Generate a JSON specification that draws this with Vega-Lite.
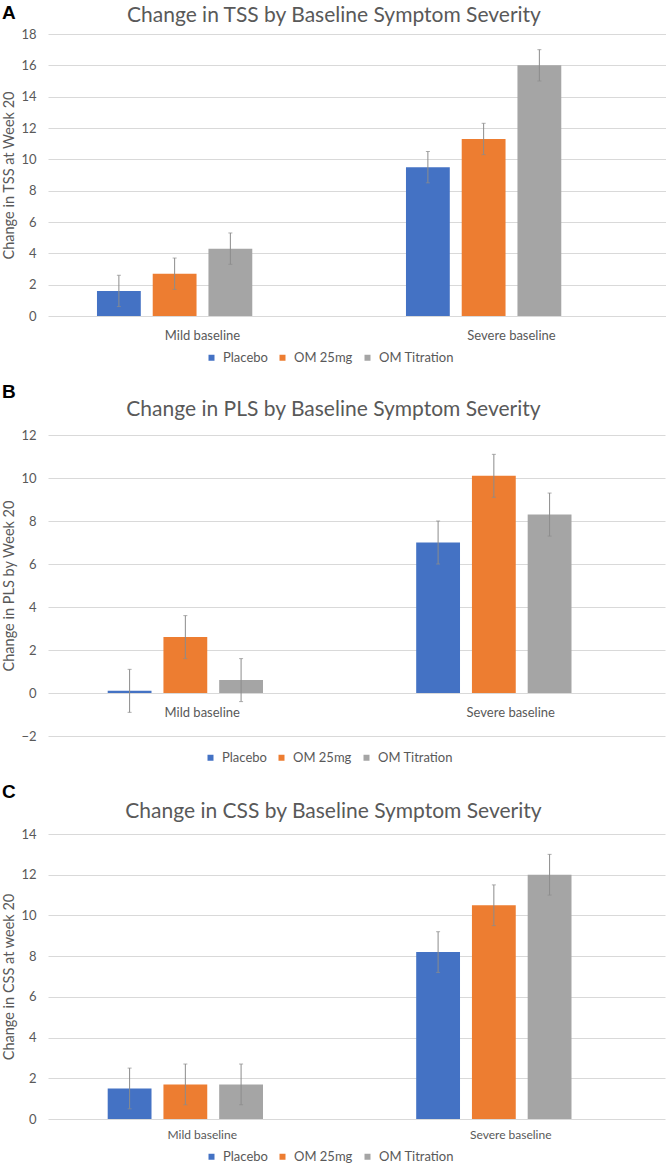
{
  "$schema": "https://vega.github.io/schema/vega-lite/v6.json",
  "background": "white",
  "padding": {"left": 1, "top": 4, "right": 0, "bottom": 0},
  "spacing": 18,
  "resolve": {"scale": {"color": "independent"}, "legend": {"color": "independent"}},
  "config": {
    "font": "Lato",
    "view": {"stroke": null},
    "axis": {"labelColor": "#595959", "titleColor": "#595959", "labelFont": "Lato", "titleFont": "Lato", "domain": false, "ticks": false, "gridColor": "#d9d9d9", "gridWidth": 1, "labelOverlap": false},
    "axisX": {"grid": false, "labelAngle": 0, "labelFontSize": 13, "labelPadding": 10, "title": null},
    "axisY": {"labelFontSize": 13, "titleFontSize": 14.5, "titleFontWeight": "normal", "labelPadding": 12, "titlePadding": 4},
    "title": {"font": "Lato", "fontSize": 21, "fontWeight": "normal", "color": "#595959"},
    "legend": {"orient": "none", "direction": "horizontal", "title": null, "symbolType": "square", "symbolSize": 36, "symbolStrokeWidth": 0, "labelFontSize": 13, "labelColor": "#595959", "labelFont": "Lato", "columnPadding": 8, "labelOffset": 5}
  },
  "vconcat": [
    {
      "title": {"text": "A", "anchor": "start", "frame": "bounds", "font": "Liberation Sans", "fontSize": 19, "fontWeight": "bold", "color": "black", "offset": -18},
      "vconcat": [
        {
          "title": {"text": "Change in TSS by Baseline Symptom Severity", "anchor": "middle", "frame": "bounds", "offset": 2},
          "width": 618,
          "height": 282,
          "data": {"values": [
            {"baseline": "Mild baseline", "series": "Placebo", "value": 1.6, "lo": 0.6, "hi": 2.6},
            {"baseline": "Mild baseline", "series": "OM 25mg", "value": 2.7, "lo": 1.7, "hi": 3.7},
            {"baseline": "Mild baseline", "series": "OM Titration", "value": 4.3, "lo": 3.3, "hi": 5.3},
            {"baseline": "Severe baseline", "series": "Placebo", "value": 9.5, "lo": 8.5, "hi": 10.5},
            {"baseline": "Severe baseline", "series": "OM 25mg", "value": 11.3, "lo": 10.3, "hi": 12.3},
            {"baseline": "Severe baseline", "series": "OM Titration", "value": 16.0, "lo": 15.0, "hi": 17.0}
          ]},
          "encoding": {
            "x": {"field": "baseline", "type": "nominal", "sort": ["Mild baseline", "Severe baseline"], "scale": {"paddingInner": 0.317, "paddingOuter": 0.1585}, "axis": {"labelPadding": 13}},
            "xOffset": {"field": "series", "type": "nominal", "scale": {"domain": ["Placebo", "OM 25mg", "OM Titration", "(none)"], "paddingInner": 0.214, "paddingOuter": 0}}
          },
          "layer": [
            {
              "mark": {"type": "bar"},
              "encoding": {
                "y": {"field": "value", "type": "quantitative", "scale": {"domain": [0, 18], "nice": false}, "axis": {"values": [0, 2, 4, 6, 8, 10, 12, 14, 16, 18]}, "title": "Change in TSS at Week 20"},
                "color": {"field": "series", "type": "nominal", "scale": {"domain": ["Placebo", "OM 25mg", "OM Titration"], "range": ["#4472C4", "#ED7D31", "#A5A5A5"]}, "legend": {"legendX": 157, "legendY": 317}}
              }
            },
            {
              "mark": {"type": "rule", "color": "#8c8c8c", "strokeWidth": 1},
              "encoding": {"y": {"field": "lo", "type": "quantitative", "axis": {"values": [0, 2, 4, 6, 8, 10, 12, 14, 16, 18]}, "title": "Change in TSS at Week 20"}, "y2": {"field": "hi"}}
            },
            {
              "mark": {"type": "tick", "color": "#8c8c8c", "size": 4, "thickness": 1},
              "encoding": {"y": {"field": "lo", "type": "quantitative", "axis": {"values": [0, 2, 4, 6, 8, 10, 12, 14, 16, 18]}, "title": "Change in TSS at Week 20"}}
            },
            {
              "mark": {"type": "tick", "color": "#8c8c8c", "size": 4, "thickness": 1},
              "encoding": {"y": {"field": "hi", "type": "quantitative", "axis": {"values": [0, 2, 4, 6, 8, 10, 12, 14, 16, 18]}, "title": "Change in TSS at Week 20"}}
            }
          ]
        }
      ]
    },
    {
      "title": {"text": "B", "anchor": "start", "frame": "bounds", "font": "Liberation Sans", "fontSize": 19, "fontWeight": "bold", "color": "black", "offset": -3},
      "vconcat": [
        {
          "title": {"text": "Change in PLS by Baseline Symptom Severity", "anchor": "middle", "frame": "bounds", "offset": 9},
          "width": 617,
          "height": 301,
          "data": {"values": [
            {"baseline": "Mild baseline", "series": "Placebo", "value": 0.1, "lo": -0.9, "hi": 1.1},
            {"baseline": "Mild baseline", "series": "OM 25mg", "value": 2.6, "lo": 1.6, "hi": 3.6},
            {"baseline": "Mild baseline", "series": "OM Titration", "value": 0.6, "lo": -0.4, "hi": 1.6},
            {"baseline": "Severe baseline", "series": "Placebo", "value": 7.0, "lo": 6.0, "hi": 8.0},
            {"baseline": "Severe baseline", "series": "OM 25mg", "value": 10.1, "lo": 9.1, "hi": 11.1},
            {"baseline": "Severe baseline", "series": "OM Titration", "value": 8.3, "lo": 7.3, "hi": 9.3}
          ]},
          "encoding": {
            "x": {"field": "baseline", "type": "nominal", "sort": ["Mild baseline", "Severe baseline"], "scale": {"paddingInner": 0.387, "paddingOuter": 0.1935}, "axis": {"offset": -40}},
            "xOffset": {"field": "series", "type": "nominal", "scale": {"domain": ["Placebo", "OM 25mg", "OM Titration"], "paddingInner": 0.22, "paddingOuter": 0}}
          },
          "layer": [
            {
              "mark": {"type": "bar"},
              "encoding": {
                "y": {"field": "value", "type": "quantitative", "scale": {"domain": [-2, 12], "nice": false}, "axis": {"values": [-2, 0, 2, 4, 6, 8, 10, 12]}, "title": "Change in PLS by Week 20"},
                "color": {"field": "series", "type": "nominal", "scale": {"domain": ["Placebo", "OM 25mg", "OM Titration"], "range": ["#4472C4", "#ED7D31", "#A5A5A5"]}, "legend": {"legendX": 156, "legendY": 316}}
              }
            },
            {
              "mark": {"type": "rule", "color": "#8c8c8c", "strokeWidth": 1},
              "encoding": {"y": {"field": "lo", "type": "quantitative", "axis": {"values": [-2, 0, 2, 4, 6, 8, 10, 12]}, "title": "Change in PLS by Week 20"}, "y2": {"field": "hi"}}
            },
            {
              "mark": {"type": "tick", "color": "#8c8c8c", "size": 4, "thickness": 1},
              "encoding": {"y": {"field": "lo", "type": "quantitative", "axis": {"values": [-2, 0, 2, 4, 6, 8, 10, 12]}, "title": "Change in PLS by Week 20"}}
            },
            {
              "mark": {"type": "tick", "color": "#8c8c8c", "size": 4, "thickness": 1},
              "encoding": {"y": {"field": "hi", "type": "quantitative", "axis": {"values": [-2, 0, 2, 4, 6, 8, 10, 12]}, "title": "Change in PLS by Week 20"}}
            }
          ]
        }
      ]
    },
    {
      "title": {"text": "C", "anchor": "start", "frame": "bounds", "font": "Liberation Sans", "fontSize": 19, "fontWeight": "bold", "color": "black", "offset": -1},
      "vconcat": [
        {
          "title": {"text": "Change in CSS by Baseline Symptom Severity", "anchor": "middle", "frame": "bounds", "offset": 6},
          "width": 617,
          "height": 285,
          "data": {"values": [
            {"baseline": "Mild baseline", "series": "Placebo", "value": 1.5, "lo": 0.5, "hi": 2.5},
            {"baseline": "Mild baseline", "series": "OM 25mg", "value": 1.7, "lo": 0.7, "hi": 2.7},
            {"baseline": "Mild baseline", "series": "OM Titration", "value": 1.7, "lo": 0.7, "hi": 2.7},
            {"baseline": "Severe baseline", "series": "Placebo", "value": 8.2, "lo": 7.2, "hi": 9.2},
            {"baseline": "Severe baseline", "series": "OM 25mg", "value": 10.5, "lo": 9.5, "hi": 11.5},
            {"baseline": "Severe baseline", "series": "OM Titration", "value": 12.0, "lo": 11.0, "hi": 13.0}
          ]},
          "encoding": {
            "x": {"field": "baseline", "type": "nominal", "sort": ["Mild baseline", "Severe baseline"], "scale": {"paddingInner": 0.387, "paddingOuter": 0.1935}, "axis": {"labelFontSize": 12}},
            "xOffset": {"field": "series", "type": "nominal", "scale": {"domain": ["Placebo", "OM 25mg", "OM Titration"], "paddingInner": 0.22, "paddingOuter": 0}}
          },
          "layer": [
            {
              "mark": {"type": "bar"},
              "encoding": {
                "y": {"field": "value", "type": "quantitative", "scale": {"domain": [0, 14], "nice": false}, "axis": {"values": [0, 2, 4, 6, 8, 10, 12, 14]}, "title": "Change in CSS at week 20"},
                "color": {"field": "series", "type": "nominal", "scale": {"domain": ["Placebo", "OM 25mg", "OM Titration"], "range": ["#4472C4", "#ED7D31", "#A5A5A5"]}, "legend": {"legendX": 157, "legendY": 316}}
              }
            },
            {
              "mark": {"type": "rule", "color": "#8c8c8c", "strokeWidth": 1},
              "encoding": {"y": {"field": "lo", "type": "quantitative", "axis": {"values": [0, 2, 4, 6, 8, 10, 12, 14]}, "title": "Change in CSS at week 20"}, "y2": {"field": "hi"}}
            },
            {
              "mark": {"type": "tick", "color": "#8c8c8c", "size": 4, "thickness": 1},
              "encoding": {"y": {"field": "lo", "type": "quantitative", "axis": {"values": [0, 2, 4, 6, 8, 10, 12, 14]}, "title": "Change in CSS at week 20"}}
            },
            {
              "mark": {"type": "tick", "color": "#8c8c8c", "size": 4, "thickness": 1},
              "encoding": {"y": {"field": "hi", "type": "quantitative", "axis": {"values": [0, 2, 4, 6, 8, 10, 12, 14]}, "title": "Change in CSS at week 20"}}
            }
          ]
        }
      ]
    }
  ]
}
